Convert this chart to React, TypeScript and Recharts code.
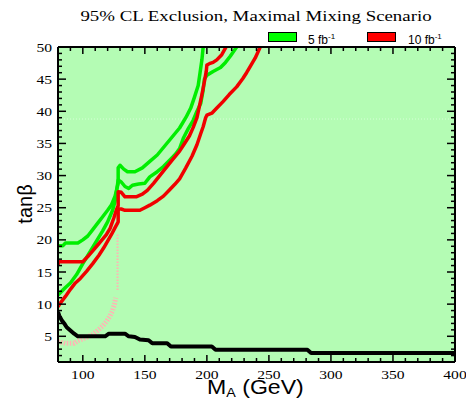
import React from 'react';
import { LineChart, Line, XAxis, YAxis, CartesianGrid, ReferenceLine } from 'recharts';

// exclusion contours, [M_A (GeV), tan beta]
const green5Upper: number[][] = [
  [80, 19.1], [84, 19.1], [86, 19.5], [96, 19.5], [100, 20.0], [104, 20.6], [108, 21.6],
  [112, 22.6], [116, 23.6], [120, 24.6], [123, 25.4], [126, 26.8], [128.5, 28.8],
  [128.5, 31.2], [130, 31.6], [133, 31.0], [136, 30.6], [142, 30.6], [148, 31.2],
  [154, 32.2], [160, 33.2], [166, 34.6], [172, 36.0], [178, 37.4], [183, 39.0],
  [187, 40.5], [190, 42.2], [193, 44.0], [194.5, 46], [196, 48], [197, 50],
];
const green5Lower: number[][] = [
  [80, 11.4], [82, 11.8], [86, 12.6], [90, 13.3], [95, 14.6], [100, 16.3], [106, 18.2],
  [111, 19.8], [116, 21.4], [120, 22.8], [124, 24.6], [126, 26], [127.5, 28.0],
  [128.5, 29.3], [131, 29.0], [134, 28.3], [137, 28.0], [140, 28.5], [145, 28.7],
  [150, 28.8], [154, 29.8], [160, 30.6], [165, 31.4], [170, 32.4], [175, 33.4],
  [178, 34.2], [181, 35.8], [185, 37.3], [189, 38.6], [192, 40], [195, 41.2],
  [197, 43.3], [198, 45], [200, 45.6], [205, 46.2], [211, 46.8], [215, 47.6],
  [219, 48.6], [224, 50],
];
const red10Upper: number[][] = [
  [80, 16.1], [80.5, 16.6], [100, 16.6], [104, 17.4], [108, 18.3], [112, 19.2],
  [116, 20.1], [119, 20.8], [122, 21.8], [125, 23.4], [127, 24.6], [128.5, 25.3],
  [128.5, 27.5], [131, 27.4], [134, 26.7], [143, 26.7], [148, 27.1], [152, 27.7],
  [157, 28.8], [162, 30.0], [167, 31.2], [172, 32.4], [178, 33.8], [182, 35.0],
  [186, 36.2], [189, 37.5], [192, 39.0], [194, 40.8], [196, 42.6], [198, 44.6],
  [199.5, 46.2], [200, 47.2], [202, 47.4], [205, 47.6], [208, 48.0], [212, 48.8],
  [215.5, 50],
];
const red10Lower: number[][] = [
  [80, 9.6], [82, 10.2], [86, 11.2], [90, 12.3], [94, 13.3], [98, 14.0], [103, 15.1],
  [108, 16.3], [113, 17.6], [117, 18.8], [120, 19.8], [123, 20.8], [126, 21.9],
  [128.5, 22.8], [128.5, 24.8], [131, 24.8], [134, 24.6], [146, 24.6], [150, 25.0],
  [154, 25.4], [160, 26.1], [165, 26.8], [170, 27.8], [174, 28.6], [178, 29.5],
  [183, 31.2], [188, 33.0], [192, 34.8], [195, 36.5], [197, 37.6], [199, 39.0],
  [200, 39.4], [204, 39.7], [208, 40.5], [213, 41.5], [218, 42.6], [224, 43.8],
  [229, 45.1], [232, 46.0], [235, 47.0], [239, 48.3], [243, 50],
];
const lepLimit: number[][] = [
  [80, 8.8], [81, 8.2], [83, 7.5], [85, 7.0], [87, 6.4], [90, 5.9], [93, 5.4],
  [96, 5.0], [118, 5.0], [121, 5.4], [134, 5.4], [137, 5.0], [142, 4.9], [146, 4.5],
  [153, 4.4], [156, 3.9], [168, 3.9], [171, 3.4], [204, 3.4], [207, 2.9], [281, 2.9],
  [284, 2.4], [400, 2.4],
];
const pinkBand: number[][] = [
  [80, 4.2], [86, 3.9], [93, 3.9], [96, 4.3], [100, 4.6], [104, 4.9], [108, 5.3],
  [112, 5.9], [116, 6.6], [119, 7.3], [122, 8.2], [124, 9.0], [125.5, 10], [126.5, 11],
];
const pinkStem: number[][] = [[128, 12.2], [128, 21]];

const xTicks = Array.from({ length: 32 }, (_, i) => 90 + i * 10);
const yTicks = Array.from({ length: 49 }, (_, i) => 2 + i);

const pts = (a: number[][]) => a.map(([x, y]) => ({ x, y }));

const serif = '"Liberation Serif", "Times New Roman", serif';
const sans = '"Liberation Sans", Arial, sans-serif';

const BottomTick = (p: any) => {
  const v = p.payload.value;
  const major = v % 50 === 0;
  return (
    <g>
      <line x1={p.x} y1={p.y} x2={p.x} y2={p.y - (major ? 7 : 4)} stroke="#000" strokeWidth={1.5} />
      {major && (
        <text transform={`translate(${p.x},${p.y + 17}) scale(1.25,1)`} textAnchor="middle"
          fontFamily={serif} fontSize={12.5} fill="#000">{v}</text>
      )}
    </g>
  );
};
const TopTick = (p: any) => {
  const major = p.payload.value % 50 === 0;
  return <line x1={p.x} y1={p.y} x2={p.x} y2={p.y + (major ? 7 : 4)} stroke="#000" strokeWidth={1.5} />;
};
const LeftTick = (p: any) => {
  const v = p.payload.value;
  const major = v % 5 === 0;
  return (
    <g>
      <line x1={p.x} y1={p.y} x2={p.x + (major ? 8 : 4)} y2={p.y} stroke="#000" strokeWidth={1.5} />
      {major && (
        <text transform={`translate(${p.x - 6},${p.y + 4.5}) scale(1.25,1)`} textAnchor="end"
          fontFamily={serif} fontSize={12.5} fill="#000">{v}</text>
      )}
    </g>
  );
};
const RightTick = (p: any) => {
  const major = p.payload.value % 5 === 0;
  return <line x1={p.x} y1={p.y} x2={p.x - (major ? 8 : 4)} y2={p.y} stroke="#000" strokeWidth={1.5} />;
};

const axisLine = { stroke: '#000', strokeWidth: 2 };

export default function App() {
  return (
    <div style={{ position: 'absolute', left: 0, top: 0, width: 466, height: 401 }}>
      <LineChart width={466} height={401} margin={{ top: 46, right: 10, bottom: 0, left: 28 }}>
        <CartesianGrid xAxisId="b" yAxisId="l" horizontal={false} vertical={false} fill="#b4fcb4" fillOpacity={1} />
        <XAxis xAxisId="b" dataKey="x" type="number" domain={[80, 400]} allowDataOverflow ticks={xTicks}
          interval={0} height={39} tickSize={0} tickMargin={0} tickLine={false} axisLine={axisLine} tick={BottomTick} />
        <XAxis xAxisId="t" orientation="top" dataKey="x" type="number" domain={[80, 400]} allowDataOverflow
          ticks={xTicks} interval={0} height={1} tickSize={0} tickMargin={0} tickLine={false} axisLine={axisLine} tick={TopTick} />
        <YAxis yAxisId="l" dataKey="y" type="number" domain={[1, 50]} allowDataOverflow ticks={yTicks}
          interval={0} width={30} tickSize={0} tickMargin={0} tickLine={false} axisLine={axisLine} tick={LeftTick} />
        <YAxis yAxisId="r" orientation="right" dataKey="y" type="number" domain={[1, 50]} allowDataOverflow
          ticks={yTicks} interval={0} width={1} tickSize={0} tickMargin={0} tickLine={false} axisLine={axisLine} tick={RightTick} />
        <ReferenceLine xAxisId="b" yAxisId="l" y={38.8} stroke="#d6ffd6" strokeDasharray="1 2" />
        <Line xAxisId="b" yAxisId="l" data={pts(pinkBand)} dataKey="y" stroke="#ffb4b4" strokeWidth={5}
          strokeDasharray="1.5 1.5" dot={false} isAnimationActive={false} />
        <Line xAxisId="b" yAxisId="l" data={pts(pinkStem)} dataKey="y" stroke="#ffb4b4" strokeWidth={2}
          strokeDasharray="1.5 1.5" dot={false} isAnimationActive={false} />
        <Line xAxisId="b" yAxisId="l" data={pts(green5Upper)} dataKey="y" stroke="#00ee00" strokeWidth={3.5}
          strokeLinejoin="round" dot={false} isAnimationActive={false} />
        <Line xAxisId="b" yAxisId="l" data={pts(green5Lower)} dataKey="y" stroke="#00ee00" strokeWidth={3.5}
          strokeLinejoin="round" dot={false} isAnimationActive={false} />
        <Line xAxisId="b" yAxisId="l" data={pts(red10Upper)} dataKey="y" stroke="#f00000" strokeWidth={3.5}
          strokeLinejoin="round" dot={false} isAnimationActive={false} />
        <Line xAxisId="b" yAxisId="l" data={pts(red10Lower)} dataKey="y" stroke="#f00000" strokeWidth={3.5}
          strokeLinejoin="round" dot={false} isAnimationActive={false} />
        <Line xAxisId="b" yAxisId="l" data={pts(lepLimit)} dataKey="y" stroke="#000" strokeWidth={4}
          strokeLinejoin="round" dot={false} isAnimationActive={false} />
      </LineChart>

      <div style={{ position: 'absolute', left: 23, top: 9, width: 466, textAlign: 'center', fontFamily: serif,
        fontSize: 15, lineHeight: '15px', transform: 'scaleX(1.257)', whiteSpace: 'nowrap' }}>
        95% CL Exclusion, Maximal Mixing Scenario
      </div>

      <div style={{ position: 'absolute', left: 268, top: 32, width: 27, height: 8, background: '#00ff00', border: '1px solid #000' }} />
      <div style={{ position: 'absolute', left: 308, top: 30, fontFamily: sans, fontSize: 12, lineHeight: '14px', whiteSpace: 'nowrap' }}>
        5 fb<sup style={{ fontSize: 8, verticalAlign: 5 }}>-1</sup>
      </div>
      <div style={{ position: 'absolute', left: 367, top: 32, width: 27, height: 8, background: '#ff0000', border: '1px solid #000' }} />
      <div style={{ position: 'absolute', left: 408, top: 30, fontFamily: sans, fontSize: 12, lineHeight: '14px', whiteSpace: 'nowrap' }}>
        10 fb<sup style={{ fontSize: 8, verticalAlign: 5 }}>-1</sup>
      </div>

      <div style={{ position: 'absolute', left: 207, top: 376, fontFamily: sans, fontSize: 21, lineHeight: '21px',
        whiteSpace: 'nowrap', transform: 'scaleX(1.1)', transformOrigin: 'left center' }}>
        M<sub style={{ fontSize: 13, verticalAlign: -3, lineHeight: '13px' }}>A</sub> (GeV)
      </div>

      <div style={{ position: 'absolute', left: 25, top: 204, fontFamily: sans, fontSize: 20, lineHeight: '20px',
        whiteSpace: 'nowrap', transform: 'translate(-50%, -50%) rotate(-90deg)' }}>
        tanβ
      </div>
    </div>
  );
}
